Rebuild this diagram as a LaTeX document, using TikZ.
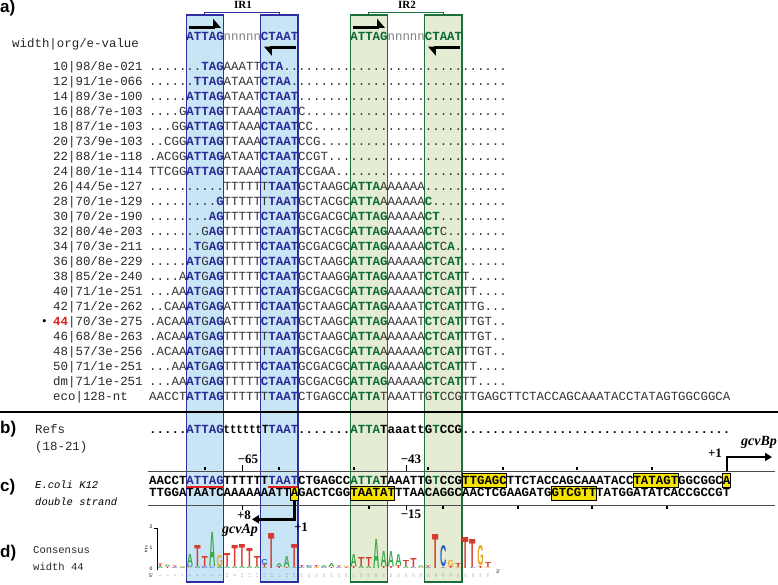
\documentclass[tikz,border=0pt]{standalone}
\usepackage{fontspec}
\setmainfont{Liberation Serif}
\setsansfont{Liberation Sans}
\setmonofont{Liberation Mono}
\usepackage{graphicx}
\usetikzlibrary{arrows.meta,calc}

\definecolor{irblue}{HTML}{2A2A96}
\definecolor{irgreen}{HTML}{0B6B30}
\definecolor{bluefill}{HTML}{C8E5F6}
\definecolor{greenfill}{HTML}{E4EDD3}
\definecolor{blueline}{HTML}{2E2EA0}
\definecolor{greenline}{HTML}{1E6E3C}
\definecolor{seqgrey}{HTML}{333333}
\definecolor{hotred}{HTML}{E02020}
\definecolor{boxyellow}{HTML}{F5E400}
\definecolor{logoA}{HTML}{3DA84A}
\definecolor{logoC}{HTML}{2F5FCC}
\definecolor{logoG}{HTML}{EDA524}
\definecolor{logoT}{HTML}{D63B2B}

\newcommand{\seqfont}{\ttfamily\fontsize{12.417}{15}\selectfont}
\newcommand{\bl}[1]{\textcolor{irblue}{\textbf{#1}}}
\newcommand{\gr}[1]{\textcolor{irgreen}{\textbf{#1}}}
\newcommand{\nn}[1]{\textcolor{gray}{#1}}
\newcommand{\dotrun}[1]{\ifnum#1>0 .\expandafter\dotrun\expandafter{\the\numexpr#1-1\relax}\fi}
\newcommand{\logoletter}[2]{\textcolor{logo#1}{\resizebox{6.3pt}{#2pt}{\sffamily\bfseries #1}}}

\begin{document}
\begin{tikzpicture}[x=1pt,y=-1pt,
  every node/.style={inner sep=0pt},
  seq/.style={anchor=base west,font=\seqfont,text=seqgrey},
  refseq/.style={anchor=base west,font=\seqfont\bfseries,text=black},
  lab/.style={anchor=base west,font=\seqfont,text=black!85},
  part/.style={anchor=west,font=\sffamily\bfseries\fontsize{17}{17}\selectfont},
  note/.style={anchor=base west,font=\ttfamily\itshape\fontsize{10.5}{12}\selectfont},
  poslab/.style={font=\bfseries\fontsize{13}{13}\selectfont},
  prom/.style={font=\bfseries\itshape\fontsize{14}{14}\selectfont},
  irlab/.style={font=\bfseries\fontsize{11}{11}\selectfont},
  bluebox/.style={fill=bluefill,draw=blueline,line width=1.2pt},
  greenbox/.style={fill=greenfill,draw=greenline,line width=1.2pt},
  harp/.style={line width=3pt,-{Triangle[left,length=7pt,width=16pt]}},
  promarrow/.style={line width=2.5pt,-{Triangle[length=7pt,width=8pt]}},
  hilite/.style={fill=boxyellow,draw=black,line width=0.8pt},
  logo/.style={anchor=south},
  posnum/.style={rotate=90,font=\sffamily\fontsize{2.8}{3}\selectfont,text=gray}]
\useasboundingbox (0,0) rectangle (778,584);

% the four half sites
\draw[bluebox] (186.25,15) rectangle (223.5,582);
\draw[bluebox] (260.75,15) rectangle (298,582);
\draw[greenbox] (350.15,15) rectangle (387.4,582);
\draw[greenbox] (424.65,15) rectangle (461.9,582);
\draw[blueline,line width=0.9pt] (204.9,15) -- (204.9,12) -- (279.4,12) -- (279.4,15);
\draw[greenline,line width=0.9pt] (368.8,15) -- (368.8,12) -- (443.3,12) -- (443.3,15);
\node[irlab] (ir1) at (243,5) {IR1};
\node[irlab] (ir2) at (407,5) {IR2};

% a) header
\node[part] (la) at (0,8) {a)};
\node[seq] (hd1) at (186.25,40.5) {\bl{ATTAG}\nn{nnnnn}\bl{CTAAT}};
\node[seq] (hd2) at (350.15,40.5) {\gr{ATTAG}\nn{nnnnn}\gr{CTAAT}};
\draw[harp] (189,27) -- (221,27);
\draw[harp] (296,47.5) -- (264,47.5);
\draw[harp] (353,27) -- (385,27);
\draw[harp] (460,47.5) -- (428,47.5);
\node[lab] (hdr) at (12,47.8) {width|org/e-value};

% alignment rows
\node[lab] (l10) at (53,70.5) {10|98/8e-021};
\node[seq] (r10) at (149,70.5) {\dotrun{7}\bl{TAG}AAATT\bl{CTA}\dotrun{30}};
\node[lab] (l12) at (53,85.5) {12|91/1e-066};
\node[seq] (r12) at (149,85.5) {\dotrun{6}\bl{TTAG}ATAAT\bl{CTAA}\dotrun{29}};
\node[lab] (l14) at (53,100.5) {14|89/3e-100};
\node[seq] (r14) at (149,100.5) {\dotrun{5}\bl{ATTAG}ATAAT\bl{CTAAT}\dotrun{28}};
\node[lab] (l16) at (53,115.5) {16|88/7e-103};
\node[seq] (r16) at (149,115.5) {\dotrun{4}G\bl{ATTAG}TTAAA\bl{CTAAT}C\dotrun{27}};
\node[lab] (l18) at (53,130.5) {18|87/1e-103};
\node[seq] (r18) at (149,130.5) {\dotrun{3}GG\bl{ATTAG}TTAAA\bl{CTAAT}CC\dotrun{26}};
\node[lab] (l20) at (53,145.5) {20|73/9e-103};
\node[seq] (r20) at (149,145.5) {\dotrun{2}CGG\bl{ATTAG}TTAAA\bl{CTAAT}CCG\dotrun{25}};
\node[lab] (l22) at (53,160.5) {22|88/1e-118};
\node[seq] (r22) at (149,160.5) {.ACGG\bl{ATTAG}ATAAT\bl{CTAAT}CCGT\dotrun{24}};
\node[lab] (l24) at (53,175.5) {24|80/1e-114};
\node[seq] (r24) at (149,175.5) {TTCGG\bl{ATTAG}TTAAA\bl{CTAAT}CCGAA\dotrun{23}};
\node[lab] (l26) at (53,190.5) {26|44/5e-127};
\node[seq] (r26) at (149,190.5) {\dotrun{10}TTTTTT\bl{TAAT}GCTAAGC\gr{ATTA}AAAAAA\dotrun{11}};
\node[lab] (l28) at (53,205.5) {28|70/1e-129};
\node[seq] (r28) at (149,205.5) {\dotrun{9}\bl{G}TTTTTT\bl{TAAT}GCTACGC\gr{ATTA}AAAAAA\gr{C}\dotrun{10}};
\node[lab] (l30) at (53,220.5) {30|70/2e-190};
\node[seq] (r30) at (149,220.5) {\dotrun{8}\bl{AG}TTTTT\bl{CTAAT}GCGACGC\gr{ATTAG}AAAAA\gr{CT}\dotrun{9}};
\node[lab] (l32) at (53,235.5) {32|80/4e-203};
\node[seq] (r32) at (149,235.5) {\dotrun{7}G\bl{AG}TTTTT\bl{CTAAT}GCTACGC\gr{ATTAG}AAAAA\gr{CT}C\dotrun{8}};
\node[lab] (l34) at (53,250.5) {34|70/3e-211};
\node[seq] (r34) at (149,250.5) {\dotrun{6}\bl{T}G\bl{AG}TTTTT\bl{CTAAT}GCGACGC\gr{ATTAG}AAAAA\gr{CT}C\gr{A}\dotrun{7}};
\node[lab] (l36) at (53,265.5) {36|80/8e-229};
\node[seq] (r36) at (149,265.5) {\dotrun{5}\bl{AT}G\bl{AG}TTTTT\bl{CTAAT}GCTAAGC\gr{ATTAG}AAAAA\gr{CT}C\gr{AT}\dotrun{6}};
\node[lab] (l38) at (53,280.5) {38|85/2e-240};
\node[seq] (r38) at (149,280.5) {\dotrun{4}A\bl{AT}G\bl{AG}TTTTT\bl{CTAAT}GCTAAGG\gr{ATTAG}AAAAT\gr{CT}C\gr{AT}T\dotrun{5}};
\node[lab] (l40) at (53,295.5) {40|71/1e-251};
\node[seq] (r40) at (149,295.5) {\dotrun{3}AA\bl{AT}G\bl{AG}TTTTT\bl{CTAAT}GCGACGC\gr{ATTAG}AAAAA\gr{CT}C\gr{AT}TT\dotrun{4}};
\node[lab] (l42) at (53,310.5) {42|71/2e-262};
\node[seq] (r42) at (149,310.5) {\dotrun{2}CAA\bl{AT}G\bl{AG}ATTTT\bl{CTAAT}GCTAAGC\gr{ATTAG}AAAAT\gr{CT}C\gr{AT}TTG\dotrun{3}};
\node[anchor=base east,font=\fontsize{13}{13}\selectfont] (star) at (47,325.5) {\textbullet};
\node[lab] (l44) at (53,325.5) {\textcolor{hotred}{\textbf{44}}|70/3e-275};
\node[seq] (r44) at (149,325.5) {.ACAA\bl{AT}G\bl{AG}ATTTT\bl{CTAAT}GCTAAGC\gr{ATTAG}AAAAT\gr{CT}C\gr{AT}TTGT\dotrun{2}};
\node[lab] (l46) at (53,340.5) {46|68/8e-263};
\node[seq] (r46) at (149,340.5) {.ACAA\bl{AT}G\bl{AG}TTTTTT\bl{TAAT}GCTAAGC\gr{ATTA}AAAAAA\gr{CT}C\gr{AT}TTGT\dotrun{2}};
\node[lab] (l48) at (53,355.5) {48|57/3e-256};
\node[seq] (r48) at (149,355.5) {.ACAA\bl{AT}G\bl{AG}TTTTTT\bl{TAAT}GCGACGC\gr{ATTA}AAAAAA\gr{CT}C\gr{AT}TTGT\dotrun{2}};
\node[lab] (l50) at (53,370.5) {50|71/1e-251};
\node[seq] (r50) at (149,370.5) {\dotrun{3}AA\bl{AT}G\bl{AG}TTTTT\bl{CTAAT}GCGACGC\gr{ATTAG}AAAAA\gr{CT}C\gr{AT}TT\dotrun{4}};
\node[lab] (ldm) at (53,385.5) {dm|71/1e-251};
\node[seq] (rdm) at (149,385.5) {\dotrun{3}AA\bl{AT}G\bl{AG}TTTTT\bl{CTAAT}GCGACGC\gr{ATTAG}AAAAA\gr{CT}C\gr{AT}TT\dotrun{4}};
\node[lab] (leco) at (53,400.5) {eco|128-nt};
\node[seq] (reco) at (149,400.5) {AACCT\bl{ATTAG}TTTTTT\bl{TAAT}CTGAGCC\gr{ATTA}TAAATTG\gr{T}CCGTTGAGCTTCTACCAGCAAATACCTATAGTGGCGGCA};

\draw[line width=2.6pt] (0,412) -- (778,412);

% b) references
\node[part] (lb) at (0,429) {b)};
\node[lab] (refs) at (35,433) {Refs};
\node[lab] (refsn) at (35,450) {(18-21)};
\node[refseq] (rref) at (149,433) {\dotrun{5}\bl{ATTAG}\scalebox{0.857}[1]{ttttttT}\bl{TAAT}\dotrun{7}\gr{ATTA}TaaattG\gr{T}CCG\dotrun{36}};

% c) double strand
\node[part] (lc) at (0,487) {c)};
\node[note] (ecoli) at (35,488.5) {E.coli K12};
\node[note] (dbl) at (35,505) {double strand};
\draw[gray!60!black,line width=0.8pt] (148,471.3) -- (775,471.3);
\draw[gray!60!black,line width=0.8pt] (148,505) -- (775,505);
\foreach \c in {8,18,...,68}
  \fill ({149+(\c-0.5)*7.45-0.9},467.3) rectangle ++(1.8,3);
\foreach \c in {30,40,...,70}
  \fill ({149+(\c-0.5)*7.45-0.9},506) rectangle ++(1.8,3);
\draw[hilite] (461.9,473) rectangle (506.6,487);
\draw[hilite] (633.25,473) rectangle (677.95,487);
\draw[hilite] (722.65,473) rectangle (730.1,487);
\draw[hilite] (290.55,486.5) rectangle (298,500.5);
\draw[hilite] (350.15,486.5) rectangle (394.85,500.5);
\draw[hilite] (551.3,486.5) rectangle (596,500.5);
\node[refseq] (top) at (149,484) {AACCT\bl{ATTAG}TTTTTT\bl{TAAT}CTGAGCC\gr{ATTA}TAAATTG\gr{T}CCGTTGAGCTTCTACCAGCAAATACCTATAGTGGCGGCA};
\node[refseq] (bot) at (149,496.5) {TTGGATAATCAAAAAAATTAGACTCGGTAATATTTAACAGGCAACTCGAAGATGGTCGTTTATGGATATCACCGCCGT};
\draw[hotred,line width=2pt] (186.25,487) -- (223.5,487);
\draw[hotred,line width=2pt] (268.2,487) -- (298,487);

\node[poslab] (m65) at (248,459) {−65};
\draw[line width=0.8pt] (242,464.5) -- (242,471.3);
\node[poslab] (m43) at (411,459) {−43};
\draw[line width=0.8pt] (406,464.5) -- (406,471.3);
\node[poslab] (m15) at (411,514) {−15};
\draw[line width=0.8pt] (406,505) -- (406,509.5);
\node[poslab] (p8) at (244,515) {+8};
\draw[line width=0.8pt] (242,505) -- (242,509.5);

% promoters
\coordinate (aplus) at (294.3,500.5);
\coordinate (aend) at (252,519.3);
\draw[promarrow] (aplus) |- (aend);
\node[poslab] (ap1) at (301,527) {+1};
\node[prom] (gcva) at (240,530) {gcvAp};
\coordinate (bplus) at (727,471.3);
\coordinate (bend) at (772,457);
\draw[promarrow] (bplus) |- (bend);
\node[poslab] (bp1) at (715,453) {+1};
\node[prom] (gcvb) at (759,442) {gcvBp};

% d) logo
\node[part] (ld) at (0,553) {d)};
\node[lab,font=\ttfamily\fontsize{10.5}{12}\selectfont] (cons) at (33,553.5) {Consensus};
\node[lab,font=\ttfamily\fontsize{10.5}{12}\selectfont] (cwid) at (33,570) {width 44};
\draw[line width=0.5pt] (154,528) -- (157,528) -- (157,570);
\node[font=\sffamily\fontsize{5}{5}\selectfont] (b2) at (151,527) {2};
\node[font=\sffamily\fontsize{5}{5}\selectfont] (b1) at (151,548) {1};
\node[font=\sffamily\fontsize{5}{5}\selectfont] (b0) at (151,569) {0};
\node[rotate=90,font=\sffamily\fontsize{4}{4}\selectfont] (bits) at (146,549) {bits};
\node[font=\sffamily\fontsize{5}{5}\selectfont] (five) at (151,576) {5'};
\node[font=\sffamily\fontsize{5}{5}\selectfont] (three) at (498,572) {3'};
\foreach \c/\l/\h/\b [count=\i] in {2/A/2/0, 2/T/2.5/2, 3/T/1.5/0, 3/A/1.5/1.5, 4/C/1/0, 4/T/1.5/1,
  5/A/1/0, 5/G/1/1, 6/G/1/0, 6/C/2/1, 6/A/11/3, 7/A/2/0, 7/T/21/2, 8/C/2/0, 8/T/10/2,
  9/C/1.5/0, 9/A/34/1.5, 10/A/2/0, 10/G/11/2, 11/A/2/0, 11/T/13/2, 12/A/2/0, 12/T/21/2,
  13/A/2/0, 13/T/22/2, 14/A/2/0, 14/T/18/2, 15/A/2/0, 15/T/10/2, 16/A/1/0, 16/T/3/1, 16/C/5/4,
  17/T/35/0, 18/T/2/0, 18/A/3/2, 19/T/1/0, 19/A/11/1, 20/A/1/0, 20/T/23/1,
  21/C/1/0, 21/T/2/1, 22/A/1/0, 22/C/2/1, 23/G/1/0, 23/T/2/1, 24/C/1/0, 24/A/2/1,
  25/T/1/0, 25/A/4/1, 26/C/1/0, 26/T/1.5/1, 27/T/1/0, 27/G/1.5/1,
  28/T/2/0, 28/A/12/2, 29/A/2/0, 29/T/9/2, 30/A/2/0, 30/T/9/2, 31/A/29/0,
  32/T/2/0, 32/A/15/2, 33/T/2/0, 33/A/15/2, 34/T/3/0, 34/A/11/3, 35/A/2/0, 35/T/6/2,
  36/C/1/0, 36/T/9/1, 37/G/1/0, 37/A/1.5/1, 38/C/1/0, 38/T/1.5/1, 39/T/34/0,
  40/T/1/0, 40/C/21/1, 41/T/2/0, 41/G/6/2, 42/G/1/0, 42/T/4/1, 43/T/31/0,
  44/C/1/0, 44/T/28/1, 45/T/2/0, 45/G/20/2, 46/G/1/0, 46/T/5/1}
  \node[logo] (lg\i) at ({149+(\c-0.5)*7.45},{569-\b-0.6*(\b>0)}) {\logoletter{\l}{\h}};
\foreach \k in {1,...,45}
  \node[posnum] (pn\k) at ({149+(\k+0.5)*7.45},575.5) {\k};
\end{tikzpicture}
\end{document}
